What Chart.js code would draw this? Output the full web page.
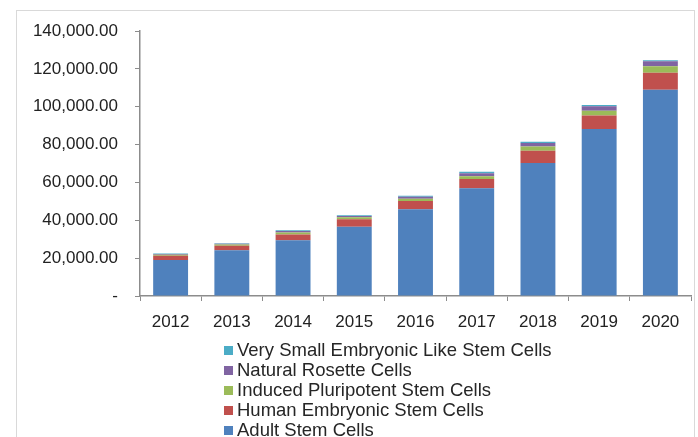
<!DOCTYPE html>
<html lang="en">
<head>
    <meta charset="UTF-8">
    <title>Stem Cells Market</title>
    <style>
        html, body{
            margin: 0;
            padding: 0;
            background-color: #fff;
        }
        body{
            font-family: "Liberation Sans", Arial, sans-serif;
            width: 698px;
            height: 437px;
            overflow: hidden;
            position: relative;
        }
        .rahmen{
            position: absolute;
            left: 16px;
            top: 10px;
            width: 677px;
            height: 460px;
            border: 1px solid #d9d9d9;
        }
        .diagrammContainer{
            position: absolute;
            left: 0;
            top: 0;
            width: 698px;
            height: 437px;
        }
        #legende{
            position: absolute;
            left: 224px;
            top: 340px;
            font-size: 18.5px;
            color: #262626;
        }
        .eintrag{
            display: flex;
            align-items: center;
            height: 20px;
            white-space: nowrap;
        }
        .kasten{
            width: 9px;
            height: 9px;
            margin-right: 4px;
        }
    </style>
</head>
<body>
    <div class="rahmen"></div>
    <div class="diagrammContainer">
        <canvas id="diagramm"></canvas>
    </div>
    <div id="legende"></div>

    <script src="https://cdn.jsdelivr.net/npm/chart.js"></script>
    <script>
        const jahre = ['2012', '2013', '2014', '2015', '2016', '2017', '2018', '2019', '2020'];

        const adultStemCells = [19000, 24200, 29500, 36600, 45800, 56900, 70200, 88200, 109000];
        const humanEmbryonicStemCells = [2200, 2300, 3000, 4000, 4400, 4900, 6500, 7200, 8900];
        const inducedPluripotentStemCells = [600, 700, 1000, 1000, 1200, 1500, 2300, 2500, 3500];
        const naturalRosetteCells = [400, 400, 800, 700, 1000, 1600, 1800, 2300, 2600];
        const verySmallEmbryonicCells = [300, 300, 400, 400, 500, 800, 700, 700, 500];

        const yTicks = [0, 20000, 40000, 60000, 80000, 100000, 120000, 140000];

        const reihen = [
            { label: 'Adult Stem Cells', data: adultStemCells, color: '#4f81bd' },
            { label: 'Human Embryonic Stem Cells', data: humanEmbryonicStemCells, color: '#c0504d' },
            { label: 'Induced Pluripotent Stem Cells', data: inducedPluripotentStemCells, color: '#9bbb59' },
            { label: 'Natural Rosette Cells', data: naturalRosetteCells, color: '#8064a2' },
            { label: 'Very Small Embryonic Like Stem Cells', data: verySmallEmbryonicCells, color: '#4bacc6' }
        ];

        const achsenFarbe = '#8c8c8c';
        const schrift = { family: '"Liberation Sans", Arial, sans-serif', size: 17 };

        new Chart(document.getElementById('diagramm'), {
            type: 'bar',
            data: {
                labels: jahre,
                datasets: reihen.map(r => ({
                    label: r.label,
                    data: r.data,
                    backgroundColor: r.color,
                    borderWidth: 0,
                    barPercentage: 0.57,
                    categoryPercentage: 1
                }))
            },
            options: {
                responsive: true,
                maintainAspectRatio: false,
                animation: false,
                layout: {
                    padding: { top: 31, right: 7, left: 0, bottom: 0 }
                },
                plugins: {
                    legend: { display: false },
                    tooltip: { enabled: false }
                },
                scales: {
                    x: {
                        stacked: true,
                        grid: {
                            drawOnChartArea: false,
                            offset: true,
                            tickLength: 5,
                            color: achsenFarbe
                        },
                        border: { color: achsenFarbe, width: 1.5 },
                        ticks: {
                            font: schrift,
                            color: '#222',
                            padding: 11
                        },
                        afterFit: function(scale) {
                            scale.height = 141;
                        }
                    },
                    y: {
                        stacked: true,
                        min: 0,
                        max: 140000,
                        afterBuildTicks: function(scale) {
                            scale.ticks = yTicks.map(v => ({ value: v }));
                        },
                        grid: {
                            drawOnChartArea: false,
                            tickLength: 5,
                            color: achsenFarbe
                        },
                        border: { color: achsenFarbe, width: 1.5 },
                        ticks: {
                            font: schrift,
                            color: '#222',
                            padding: 17,
                            callback: function(value) {
                                if (value === 0) return '-';
                                return value.toLocaleString('en-US', { minimumFractionDigits: 2, maximumFractionDigits: 2 });
                            }
                        },
                        afterFit: function(scale) {
                            scale.width = 140;
                        }
                    }
                }
            }
        });

        // Legende, umgekehrte Reihenfolge wie im Original
        const legende = document.getElementById('legende');
        reihen.slice().reverse().forEach(r => {
            const zeile = document.createElement('div');
            zeile.className = 'eintrag';
            zeile.innerHTML = `<span class="kasten" style="background:${r.color}"></span><span>${r.label}</span>`;
            legende.appendChild(zeile);
        });
    </script>
</body>
</html>
